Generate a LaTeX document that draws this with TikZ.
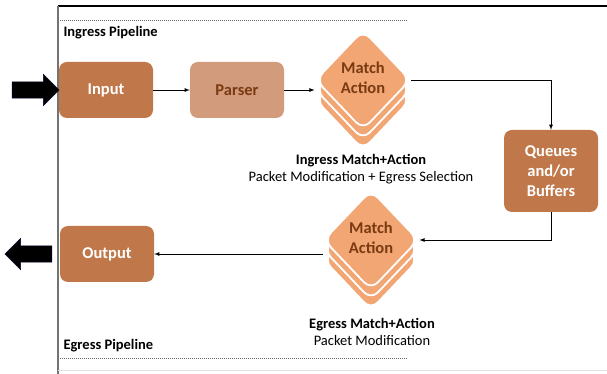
\documentclass[tikz,border=0pt]{standalone}
\usepackage{fontspec}
\setmainfont{Carlito}
\usetikzlibrary{shapes.geometric, shapes.arrows}
\definecolor{boxbrown}{HTML}{C0784A}
\definecolor{parserbrown}{HTML}{D29B7C}
\definecolor{matchorange}{HTML}{F2A674}
\definecolor{textbrown}{HTML}{7A3A12}
\newcommand{\matchtext}{\raisebox{4pt}{\begin{tabular}{@{}c@{}}Match\\Action\end{tabular}}}
\tikzset{
	stage/.style={fill=boxbrown, rounded corners=8pt, minimum width=94pt, minimum height=56pt, text=white, align=center, font=\fontsize{16.5}{20}\selectfont\bfseries},
	layer/.style={diamond, draw=white, line width=1.8pt, fill=matchorange, rounded corners=10pt, minimum width=95pt, minimum height=100pt, inner sep=0pt, text=textbrown, font=\fontsize{16.5}{20}\selectfont\bfseries},
	bigarrow/.style={single arrow, fill=black, draw=black!80!blue, minimum height=47pt, minimum width=31pt, single arrow head extend=7.5pt, inner sep=8pt},
	caption/.style={font=\fontsize{14.5}{17}\selectfont, align=center},
	pipeline/.style={font=\fontsize{14.5}{17}\selectfont\bfseries, anchor=west},
	border/.style={dash pattern=on 1pt off 1pt, line width=0.9pt, black!60}
}
\begin{document}
\begin{tikzpicture}[x=1pt, y=1pt]
	\useasboundingbox (0,0) rectangle (607,374);
	% frame
	\draw [line width=1.8pt] (58,368) -- (607,368);
	\draw [line width=1.2pt, black!55] (58,368) -- (58,0);
	\draw [line width=1pt, black!12] (58,3) -- (607,3);
	\draw [border] (60,354) -- (407,354);
	\draw [border] (60,16) -- (407,16);
	\node [pipeline] (ingress) at (60,341) {Ingress Pipeline};
	\node [pipeline] (egress) at (60,28) {Egress Pipeline};
	
	\node [stage] (input) at (106,284) {Input};
	\node [stage, fill=parserbrown, text=textbrown] (parser) at (237,284) {Parser};
	\node [stage, minimum height=82pt] (queues) at (551,203) {Queues\\and/or\\Buffers};
	\node [stage] (output) at (107,120) {Output};
	
	% stacked match-action tables
	\node [layer] (ma1c) at (363,274) {};
	\node [layer] (ma1b) at (363,284) {};
	\node [layer] (ma1) at (363,294) {\matchtext};
	\node [layer] (ma2c) at (371,114) {};
	\node [layer] (ma2b) at (371,124) {};
	\node [layer] (ma2) at (371,134) {\matchtext};
	
	\node [caption] (ingresscap) at (361,205) {\textbf{Ingress Match+Action}\\Packet Modification + Egress Selection};
	\node [caption] (egresscap) at (372,42) {\textbf{Egress Match+Action}\\Packet Modification};
	
	\node [bigarrow] (inarrow) at (31.5,284) {};
	\node [bigarrow, shape border rotate=180] (outarrow) at (32.5,120) {};
	
	\draw [arrows={-latex}, thick] (input) -- (parser);
	\draw [arrows={-latex}, thick] (parser.east) -- (parser.east -| ma1.west);
	\draw [arrows={-latex}, thick] (ma1.east) -| (queues.north);
	\draw [arrows={-latex}, thick] (queues.south) |- (ma2.east);
	\draw [arrows={-latex}, thick] (output.east -| ma2.west) -- (output.east);
	
\end{tikzpicture}
\end{document}
